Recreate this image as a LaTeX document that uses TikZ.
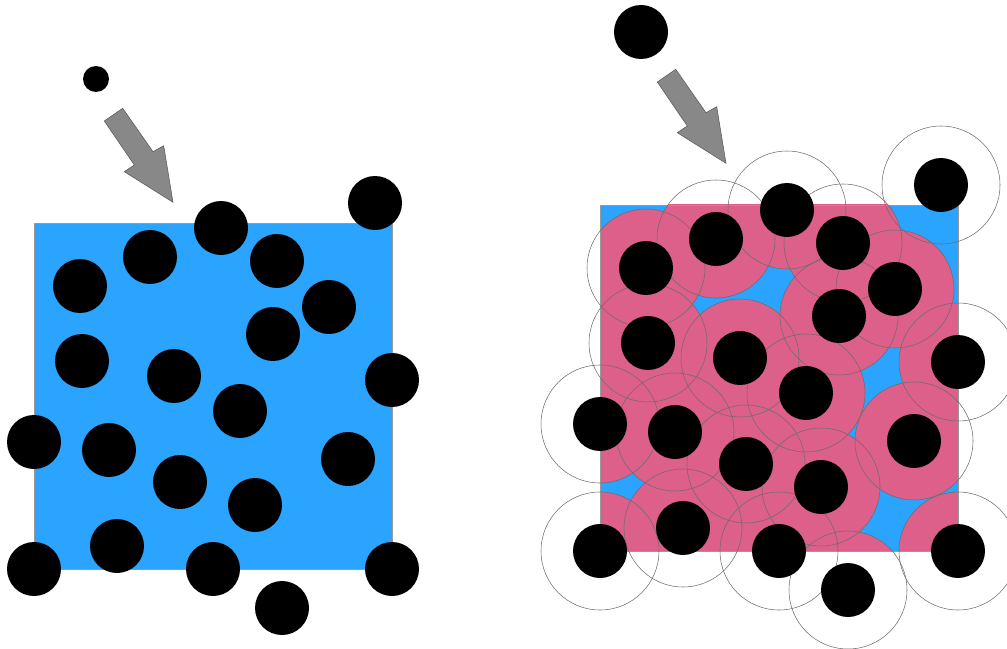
\documentclass[tikz,border=0pt]{standalone}
\usetikzlibrary{calc}
\definecolor{sqblue}{HTML}{2AA4FF}
\definecolor{pinkfill}{HTML}{DC6089}
\definecolor{arrgray}{HTML}{888888}
\tikzset{
  blob/.style={circle,fill=black,draw=none,inner sep=0pt,minimum size=40.5pt},
  smallblob/.style={circle,fill=black,draw=none,inner sep=0pt,minimum size=19.5pt},
  squarebox/.style={fill=sqblue,draw=gray!80,line width=0.6pt},
  ring/.style={draw=gray!85!black,line width=0.4pt},
  blockarrow/.style={fill=arrgray,draw=gray!70!black,line width=0.4pt},
}
\def\pts{375/203,221/228,150/257,277/261,80/286,329/307,273/334,82/361,174/376,392/380,240/411,34/442,109/450,348/459,180/482,255/505,117/546,34/569,213/569,392/569,282/608}
\def\pinkpts{221/228,150/257,277/261,80/286,329/307,273/334,82/361,174/376,392/380,240/411,34/442,109/450,348/459,180/482,255/505,117/546,34/569,213/569,392/569,282/608}
\begin{document}
\begin{tikzpicture}[x=0.75pt,y=-0.75pt]
\useasboundingbox (0,0) rectangle (1007,649);
% ---------- left panel ----------
\draw[squarebox] (34,223) rectangle (392,569);
\foreach \x/\y [count=\i] in \pts {
  \node[blob] (L\i) at (\x,\y) {};
}
\node[smallblob] (Lf) at (96,79) {};
\draw[blockarrow] (104.3,121) -- (122.7,108.3) -- (153,151.7) -- (163.7,145.7) -- (173,202.3) -- (124.3,171.7) -- (134.3,165) -- cycle;
% ---------- right panel ----------
\begin{scope}[shift={(566,-18)}]
  \fill[sqblue] (34,223) rectangle (392,569);
  \begin{scope}
    \clip (34,223) rectangle (392,569);
    \foreach \x/\y in \pinkpts { \fill[pinkfill] (\x,\y) circle[radius=59]; }
  \end{scope}
  \draw[draw=gray!80,line width=0.6pt] (34,223) rectangle (392,569);
  \foreach \x/\y in \pts { \draw[ring] (\x,\y) circle[radius=59]; }
  \foreach \x/\y [count=\i] in \pts {
    \node[blob] (R\i) at (\x,\y) {};
  }
\end{scope}
\node[blob] (Rf) at (641,32) {};
\begin{scope}[shift={(553,-39)}]
\draw[blockarrow] (104.3,121) -- (122.7,108.3) -- (153,151.7) -- (163.7,145.7) -- (173,202.3) -- (124.3,171.7) -- (134.3,165) -- cycle;
\end{scope}
\end{tikzpicture}
\end{document}
